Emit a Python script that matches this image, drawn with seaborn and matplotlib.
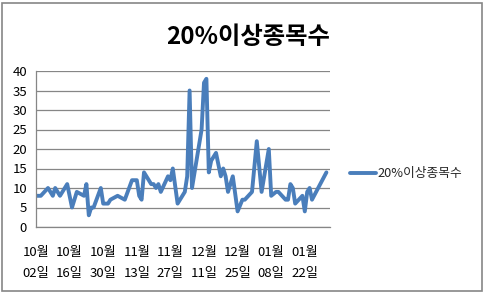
import matplotlib
matplotlib.use("Agg")
import matplotlib.pyplot as plt
from matplotlib.patches import Rectangle
import seaborn as sns
import pandas as pd

dates = ["2012-10-02", "2012-10-04", "2012-10-07", "2012-10-09", "2012-10-10", "2012-10-12",
         "2012-10-15", "2012-10-17", "2012-10-19", "2012-10-22", "2012-10-23", "2012-10-24",
         "2012-10-25", "2012-10-26", "2012-10-29", "2012-10-30", "2012-11-01", "2012-11-02",
         "2012-11-05", "2012-11-08", "2012-11-11", "2012-11-13", "2012-11-14", "2012-11-15",
         "2012-11-16", "2012-11-19", "2012-11-20", "2012-11-21", "2012-11-22", "2012-11-23",
         "2012-11-26", "2012-11-27", "2012-11-28", "2012-11-30", "2012-12-03", "2012-12-04",
         "2012-12-05", "2012-12-06", "2012-12-10", "2012-12-11", "2012-12-12", "2012-12-13",
         "2012-12-14", "2012-12-16", "2012-12-18", "2012-12-19", "2012-12-20", "2012-12-21",
         "2012-12-23", "2012-12-25", "2012-12-27", "2012-12-28", "2012-12-31", "2013-01-02",
         "2013-01-04", "2013-01-07", "2013-01-08", "2013-01-10", "2013-01-11", "2013-01-14",
         "2013-01-15", "2013-01-16", "2013-01-17", "2013-01-18", "2013-01-21", "2013-01-22",
         "2013-01-23", "2013-01-24", "2013-01-25", "2013-01-31"]
counts = [8, 8, 10, 8, 10, 8,
          11, 5, 9, 8, 11, 3,
          5, 5, 10, 6, 6, 7,
          8, 7, 12, 12, 8, 7,
          14, 11, 11, 10, 11, 9,
          13, 12, 15, 6, 9, 13,
          35, 10, 25, 37, 38, 14,
          17, 19, 13, 15, 13, 9,
          13, 4, 7, 7, 9, 22,
          9, 20, 8, 9, 9, 7,
          7, 11, 10, 6, 8, 4,
          9, 10, 7, 14]
series_name = "20%이상종목수"
y_ticks = [0, 5, 10, 15, 20, 25, 30, 35, 40]

sns.set_theme(style="white")
plt.rcParams['font.family'] = ['Noto Sans CJK KR', 'DejaVu Sans']

W, H = 485, 294
fig = plt.figure(figsize=(W / 100, H / 100), dpi=100)
fig.patch.set_facecolor("white")
fig.patches.append(Rectangle((2.5 / W, 3 / H), (482 - 2.5) / W, (291 - 3) / H,
                             transform=fig.transFigure, fill=False,
                             edgecolor="#868686", linewidth=1.2))

ax = fig.add_axes([36 / W, 1 - 227 / H, (330 - 36) / W, (227 - 71) / H])

df = pd.DataFrame({"date": pd.to_datetime(dates), "value": counts, "series": series_name})
sns.lineplot(data=df, x="date", y="value", hue="series", palette=["#4A7EBB"],
             linewidth=2.8, ax=ax, legend=True)

start = pd.Timestamp(dates[0])
ax.set_xlim(start, start + pd.Timedelta(days=122.5))
ax.set_ylim(0, 40)
ax.set_yticks(y_ticks)
tick_dates = pd.date_range(start, periods=9, freq="14D")
ax.set_xticks(tick_dates)
ax.set_xticklabels([f"{d.month:02d}월\n{d.day:02d}일" for d in tick_dates], linespacing=1.8)

ax.set_xlabel("")
ax.set_ylabel("")
ax.grid(axis="y", color="#868686", linewidth=0.9)
ax.grid(axis="x", visible=False)
for s in ["top", "right"]:
    ax.spines[s].set_visible(False)
for s in ["left", "bottom"]:
    ax.spines[s].set_color("#868686")
    ax.spines[s].set_linewidth(0.9)
ax.tick_params(axis="both", which="major", direction="out", length=3.5, width=0.9,
               color="#868686", labelsize=9.5, labelcolor="black")
ax.tick_params(axis="x", pad=10)
ax.tick_params(axis="y", pad=3)
ax.set_axisbelow(True)

handles, labels = ax.get_legend_handles_labels()
ax.legend(handles, labels, loc="center left", bbox_to_anchor=((350 - 36) / (330 - 36), (227 - 174) / (227 - 71)),
          frameon=False, fontsize=9.2, handlelength=2.0, handletextpad=0.15,
          borderaxespad=0, borderpad=0)

fig.text(248 / W, 1 - 37 / H, series_name, ha="center", va="center",
         fontsize=17.5, fontweight="bold", color="black")

fig.savefig("out.png", dpi=100, facecolor="white")
